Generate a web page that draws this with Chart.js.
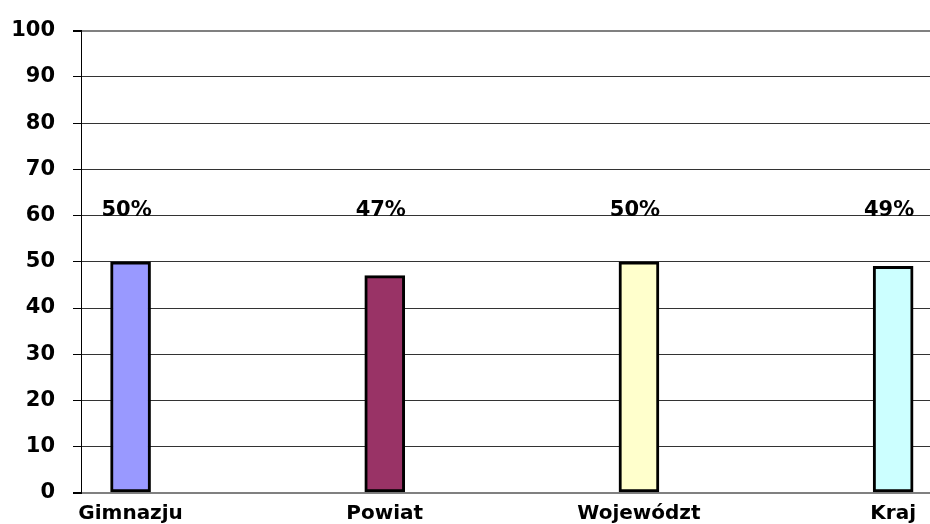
<!DOCTYPE html>
<html>
<head>
<meta charset="utf-8">
<script src="https://cdn.jsdelivr.net/npm/chart.js@4"></script>
<style>
  html, body { margin: 0; padding: 0; background: #fff; }
  #wrap { width: 930px; height: 524px; }
</style>
</head>
<body>
<div id="wrap"><canvas id="chart"></canvas></div>
<script>
const categories = ['Gimnazju', 'Powiat', 'Województ', 'Kraj'];
const values = [50, 47, 50, 49];
const barColors = ['#9999FF', '#993366', '#FFFFCC', '#CCFFFF'];
const yTicks = [0, 10, 20, 30, 40, 50, 60, 70, 80, 90, 100];
const labelLevel = 61; // the % labels sit on one line above the bars

const FONT = "'DejaVu Sans', 'Liberation Sans', Arial, sans-serif";

// percent labels over the bars
const percentLabels = {
  id: 'percentLabels',
  afterDatasetsDraw(chart) {
    const ctx = chart.ctx;
    const xs = chart.scales.x, ys = chart.scales.y;
    ctx.save();
    ctx.font = 'bold 21px ' + FONT;
    ctx.fillStyle = '#000';
    ctx.textAlign = 'center';
    ctx.textBaseline = 'middle';
    values.forEach((v, i) => {
      ctx.fillText(v + '%', xs.getPixelForValue(i) - 4, ys.getPixelForValue(labelLevel));
    });
    ctx.restore();
  }
};

const ctx = document.getElementById('chart').getContext('2d');
const myChart = new Chart(ctx, {
  type: 'bar',
  data: {
    datasets: [{
      data: values.map((v, i) => ({ x: i, y: v })),
      backgroundColor: barColors,
      borderColor: '#000',
      borderWidth: 3,
      borderSkipped: false,
      barThickness: 40
    }]
  },
  options: {
    responsive: true,
    maintainAspectRatio: false,
    animation: false,
    layout: { padding: { top: 27, right: 0, bottom: 0, left: 0 } },
    plugins: { legend: { display: false }, tooltip: { enabled: false } },
    scales: {
      x: {
        type: 'linear',
        offset: false,
        min: -0.195,
        max: 3.145,
        afterBuildTicks: (scale) => { scale.ticks = categories.map((c, i) => ({ value: i })); },
        afterFit: (scale) => { scale.height = 31; },
        grid: { display: false, drawTicks: false },
        border: { display: false },
        ticks: {
          padding: 9,
          autoSkip: false,
          maxRotation: 0,
          color: '#000',
          font: { family: FONT, size: 20, weight: 'bold' },
          callback: (v) => categories[v]
        }
      },
      y: {
        min: 0,
        max: 100,
        afterBuildTicks: (scale) => { scale.ticks = yTicks.map(v => ({ value: v })); },
        afterFit: (scale) => { scale.width = 81; },
        grid: {
          color: (c) => (c.tick.value === 0 || c.tick.value === 100) ? '#808080' : '#333',
          lineWidth: (c) => (c.tick.value === 0 || c.tick.value === 100) ? 2 : 1,
          tickLength: 8,
          tickColor: '#000'
        },
        border: { display: true, color: '#000', width: 1 },
        ticks: {
          padding: 18,
          color: '#000',
          font: { family: FONT, size: 21, weight: 'bold' }
        }
      }
    }
  },
  plugins: [percentLabels]
});
</script>
</body>
</html>
